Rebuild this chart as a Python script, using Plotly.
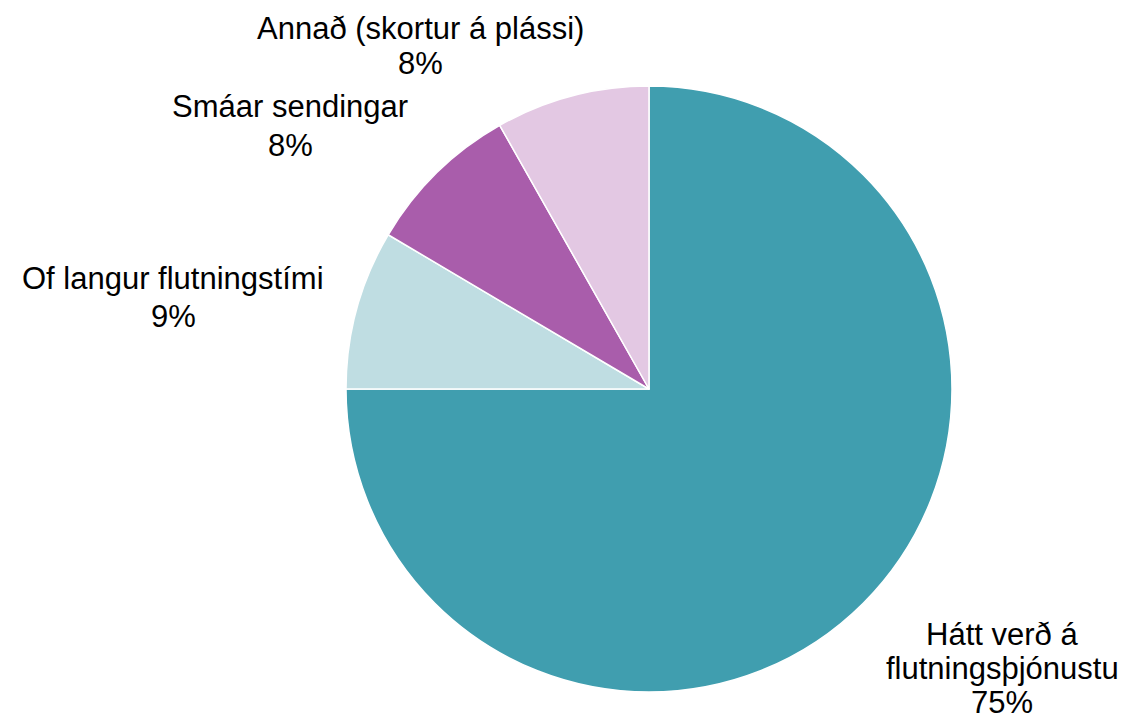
import plotly.graph_objects as go

categories = ["Hátt verð á<br>flutningsþjónustu", "Of langur flutningstími",
              "Smáar sendingar", "Annað (skortur á plássi)"]
values = [75.0, 8.5, 8.3, 8.2]
pct_labels = ["75%", "9%", "8%", "8%"]
colors = ["#409EAF", "#BFDDE2", "#A95DAB", "#E3C8E3"]

W, H = 1128, 720
cx, cy, r = 641, 339, 303  # cy measured from bottom
fig = go.Figure(go.Pie(
    labels=categories, values=values, sort=False, direction="clockwise",
    rotation=0, textinfo="none", hoverinfo="label+percent",
    marker=dict(colors=colors, line=dict(color="white", width=1.5)),
    domain=dict(x=[(cx - r) / W, (cx + r) / W], y=[(cy - r) / H, (cy + r) / H]),
    showlegend=False,
))

# label placement: x centre and y of each line (pixels from top)
label_pos = [(994, [626, 660, 694]), (165, [270, 308]), (282, [99, 137]), (412, [20, 56])]
font = dict(family="Liberation Sans, Arial", size=31, color="black")
for cat, pct, (px, ys) in zip(categories, pct_labels, label_pos):
    lines = cat.split("<br>") + [pct]
    for line, py in zip(lines, ys):
        fig.add_annotation(x=px / W, y=1 - py / H, xref="paper", yref="paper",
                           text=line, showarrow=False, borderpad=0,
                           xanchor="center", yanchor="middle", align="center",
                           font=font)

fig.update_layout(width=W, height=H, margin=dict(l=0, r=0, t=0, b=0),
                  paper_bgcolor="white", plot_bgcolor="white")
fig.write_html("out.html")
